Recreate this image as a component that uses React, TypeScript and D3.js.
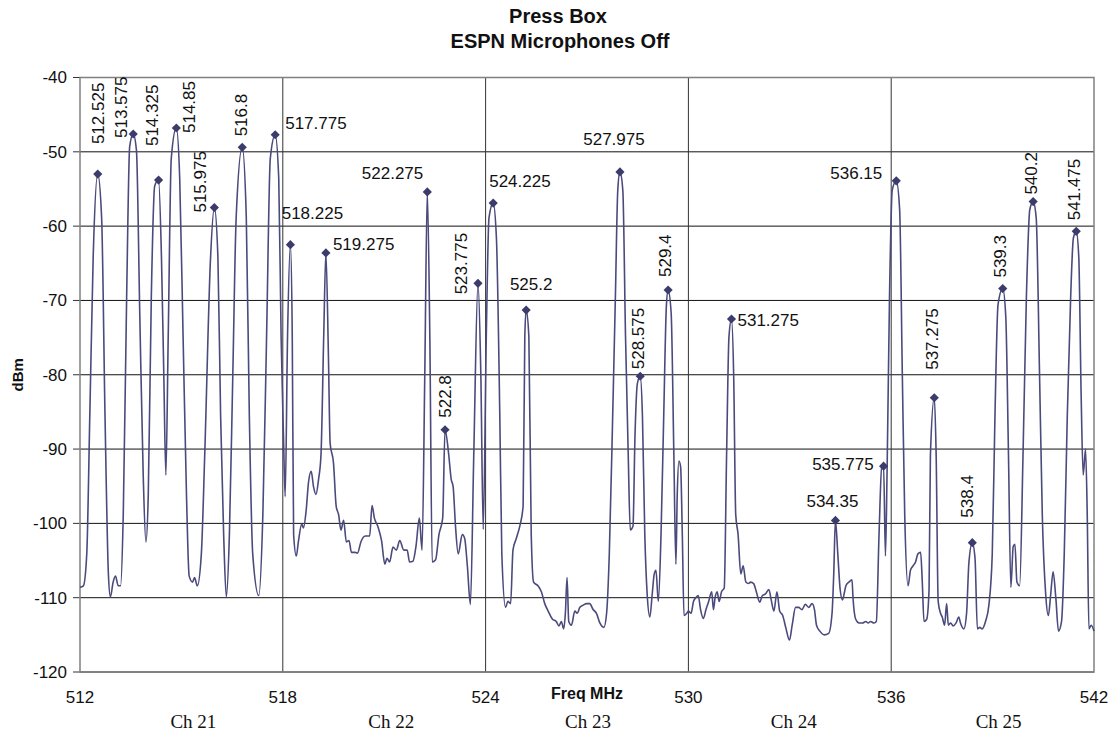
import React from 'react';
import * as d3 from 'd3';

// spectrum trace, [MHz, dBm]
const trace: [number, number][] = [
  [512.0, -108.6], [512.1, -108.4], [512.2, -104.1], [512.29, -85.5], [512.39, -64.2],
  [512.64, -58.9], [512.74, -85.5], [512.84, -106.8], [512.9, -109.9], [512.98, -107.9],
  [513.05, -107.1], [513.13, -108.4], [513.2, -108.4], [513.28, -98.8], [513.38, -69.5], [513.47, -49.3],
  [513.67, -49.8], [513.77, -72.2], [513.87, -93.5], [513.95, -102.5], [514.02, -96.1], [514.11, -69.5], [514.21, -54.6],
  [514.41, -64.2], [514.48, -80.2], [514.54, -93.5], [514.61, -74.9], [514.7, -50.9],
  [514.95, -53.6], [515.05, -74.9], [515.15, -96.1], [515.23, -107.1], [515.33, -107.9], [515.39, -107.3],
  [515.47, -108.4], [515.59, -104.1], [515.69, -90.8], [515.86, -64.5],
  [516.08, -64.2], [516.16, -85.5], [516.25, -101.5], [516.33, -109.9], [516.42, -101.5], [516.52, -80.2], [516.62, -58.9],
  [516.92, -58.9], [517.01, -85.5], [517.11, -104.1], [517.29, -109.7], [517.41, -98.8], [517.52, -74.9], [517.63, -50.9],
  [517.88, -53.6], [517.95, -74.9], [518.02, -88.2], [518.07, -96.4], [518.14, -74.9],
  [518.28, -74.9], [518.32, -101.5], [518.4, -104.4], [518.46, -102.5], [518.56, -100.1], [518.61, -100.6],
  [518.69, -98.3], [518.76, -94.5], [518.84, -93.0], [518.91, -95.1], [518.98, -96.1], [519.06, -94.0],
  [519.13, -90.8], [519.21, -74.9],
  [519.35, -77.5], [519.4, -89.2], [519.5, -91.9], [519.58, -97.7], [519.65, -98.8], [519.72, -100.9],
  [519.8, -99.6], [519.88, -102.5], [519.96, -102.3], [520.03, -103.9], [520.14, -103.9], [520.21, -104.0],
  [520.31, -102.5], [520.44, -101.7], [520.57, -101.7], [520.64, -97.6], [520.71, -99.3], [520.81, -100.4],
  [520.92, -102.3], [521.02, -105.5], [521.08, -104.7], [521.16, -105.2], [521.26, -103.2], [521.36, -103.6],
  [521.46, -102.3], [521.58, -103.6], [521.68, -103.6], [521.75, -105.2], [521.85, -105.1], [521.94, -103.1],
  [522.04, -99.3], [522.12, -103.6], [522.2, -80.2],
  [522.35, -74.9], [522.42, -105.2], [522.52, -104.9], [522.62, -101.5], [522.73, -99.3],
  [522.91, -90.8], [522.98, -94.0], [523.04, -95.1], [523.11, -100.4], [523.19, -104.1], [523.31, -101.5],
  [523.38, -102.0], [523.46, -105.7], [523.55, -110.9], [523.65, -90.8],
  [523.86, -80.2], [523.93, -100.8], [524.02, -74.9], [524.1, -58.9],
  [524.32, -61.6], [524.42, -85.5], [524.48, -104.1], [524.59, -111.3], [524.66, -110.5], [524.74, -110.8],
  [524.81, -103.6], [524.91, -102.0], [525.01, -100.4], [525.11, -97.7], [525.16, -74.9],
  [525.28, -74.9], [525.35, -101.5], [525.42, -107.9], [525.55, -108.4], [525.65, -109.2], [525.75, -110.8],
  [525.85, -111.8], [525.98, -112.9], [526.09, -113.2], [526.17, -113.8], [526.24, -113.2], [526.31, -114.2],
  [526.36, -112.1], [526.41, -107.3], [526.46, -113.2], [526.54, -113.7], [526.64, -111.8], [526.71, -112.1],
  [526.79, -111.3], [526.89, -111.0], [526.99, -110.8], [527.08, -110.8], [527.18, -111.6], [527.28, -112.1],
  [527.38, -113.4], [527.5, -114.0], [527.58, -112.1], [527.66, -104.1], [527.76, -85.5], [527.84, -69.5], [527.91, -55.2],
  [528.06, -55.2], [528.14, -74.9], [528.22, -90.8], [528.28, -100.9], [528.36, -100.4], [528.42, -88.2], [528.49, -81.2],
  [528.64, -85.5], [528.71, -101.5], [528.78, -109.5], [528.86, -112.6], [528.93, -109.5], [528.99, -106.8],
  [529.04, -106.3], [529.11, -110.5], [529.19, -101.5], [529.27, -85.5], [529.35, -70.6],
  [529.49, -71.7], [529.57, -90.8], [529.63, -105.5], [529.67, -96.1], [529.72, -91.6], [529.77, -92.4],
  [529.82, -101.5], [529.87, -112.4], [529.95, -112.1], [530.0, -111.8], [530.08, -112.1], [530.15, -110.5],
  [530.22, -110.0], [530.29, -109.7], [530.36, -111.6], [530.44, -112.8], [530.52, -111.6], [530.6, -110.5],
  [530.69, -109.2], [530.74, -111.6], [530.79, -110.0], [530.85, -109.2], [530.91, -110.5], [530.98, -109.2],
  [531.06, -108.7], [531.13, -90.8], [531.2, -74.9],
  [531.34, -80.2], [531.4, -98.8], [531.47, -101.5], [531.55, -106.8], [531.62, -105.7], [531.7, -107.9],
  [531.78, -108.1], [531.84, -107.9], [531.93, -108.1], [532.01, -109.2], [532.11, -110.6], [532.19, -109.7],
  [532.28, -109.5], [532.38, -108.9], [532.45, -110.3], [532.53, -111.8], [532.62, -109.2], [532.7, -111.8],
  [532.79, -112.4], [532.89, -114.2], [532.99, -115.7], [533.07, -113.7], [533.17, -111.3], [533.26, -111.3],
  [533.36, -111.6], [533.46, -110.9], [533.56, -111.3], [533.66, -110.8], [533.73, -111.6], [533.79, -113.7],
  [533.89, -114.5], [534.02, -115.0], [534.15, -114.8], [534.25, -112.1], [534.3, -106.8],
  [534.42, -104.1], [534.49, -108.9], [534.56, -110.3], [534.62, -109.2], [534.66, -108.4], [534.75, -107.9],
  [534.84, -107.6], [534.87, -110.0], [534.95, -112.9], [535.05, -113.4], [535.15, -113.4], [535.25, -113.2],
  [535.32, -113.4], [535.39, -113.2], [535.49, -113.4], [535.56, -113.2], [535.64, -101.5], [535.72, -92.4],
  [535.83, -104.4], [535.88, -92.4], [535.95, -69.5], [536.03, -55.2],
  [536.25, -57.8], [536.33, -80.2], [536.4, -98.8], [536.5, -108.4], [536.57, -106.3], [536.65, -105.7],
  [536.72, -105.2], [536.79, -104.1], [536.87, -103.9], [536.92, -107.9], [536.97, -113.2], [537.05, -112.9],
  [537.12, -108.9], [537.16, -90.8],
  [537.33, -90.8], [537.39, -110.5], [537.46, -112.1], [537.51, -112.6], [537.58, -113.7], [537.64, -110.8],
  [537.69, -113.7], [537.76, -113.4], [537.83, -113.8], [537.92, -113.4], [538.0, -112.6], [538.05, -113.4],
  [538.15, -114.2], [538.23, -112.1], [538.3, -105.2],
  [538.48, -104.7], [538.55, -114.2], [538.62, -114.0], [538.69, -114.2], [538.79, -113.2], [538.89, -111.0],
  [538.99, -104.1], [539.07, -85.5], [539.16, -70.6],
  [539.39, -72.2], [539.47, -90.8], [539.54, -108.6], [539.61, -103.1], [539.66, -102.8], [539.72, -107.9],
  [539.8, -108.4], [539.9, -90.8], [540.0, -69.5], [540.1, -57.8],
  [540.29, -58.9], [540.39, -80.2], [540.47, -98.8], [540.57, -109.5], [540.65, -112.4], [540.72, -109.5],
  [540.79, -106.5], [540.87, -110.0], [540.95, -114.5], [541.04, -113.2], [541.12, -104.1], [541.21, -85.5],
  [541.31, -69.5], [541.39, -61.6],
  [541.55, -64.2], [541.62, -82.8], [541.68, -93.5], [541.75, -90.0], [541.8, -98.8], [541.85, -114.2],
  [541.92, -113.7], [542.0, -114.5],
];

// marked carriers
const peakFreqs = [
  512.525, 513.575, 514.325, 514.85, 515.975, 516.8, 517.775, 518.225, 519.275, 522.275, 522.8, 523.775,
  524.225, 525.2, 527.975, 528.575, 529.4, 531.275, 534.35, 535.775, 536.15, 537.275, 538.4, 539.3,
  540.2, 541.475,
];
const peakLevels = [
  -53.0, -47.6, -53.8, -46.8, -57.5, -49.4, -47.7, -62.5, -63.6, -55.4, -87.4, -67.7,
  -56.9, -71.3, -52.7, -80.2, -68.6, -72.5, -99.6, -92.3, -53.9, -83.1, -102.6, -68.4,
  -56.7, -60.7,
];

const xTicks = [512, 518, 524, 530, 536, 542];
const yTicks = [-40, -50, -60, -70, -80, -90, -100, -110, -120];
const channelNames = ['Ch 21', 'Ch 22', 'Ch 23', 'Ch 24', 'Ch 25'];

// label placement relative to each marker (px): v = rotated text, anchor for flat text
const labelPlace: { v: boolean; dx: number; dy: number; anchor?: string }[] = [
  { v: true, dx: 0, dy: -30 },
  { v: true, dx: -12, dy: 4 },
  { v: true, dx: -7, dy: -34 },
  { v: true, dx: 13, dy: 5 },
  { v: true, dx: -14, dy: 5 },
  { v: true, dx: -1, dy: -11 },
  { v: false, dx: 10, dy: -6, anchor: 'start' },
  { v: false, dx: 22, dy: -26, anchor: 'middle' },
  { v: false, dx: 7, dy: -3, anchor: 'start' },
  { v: false, dx: -4, dy: -13, anchor: 'end' },
  { v: true, dx: 0, dy: -12 },
  { v: true, dx: -17, dy: 11 },
  { v: false, dx: -4, dy: -16, anchor: 'start' },
  { v: false, dx: 5, dy: -20, anchor: 'middle' },
  { v: false, dx: -6, dy: -27, anchor: 'middle' },
  { v: true, dx: -2, dy: -7 },
  { v: true, dx: -3, dy: -13 },
  { v: false, dx: 6, dy: 7, anchor: 'start' },
  { v: false, dx: -3, dy: -13, anchor: 'middle' },
  { v: false, dx: -10, dy: 4, anchor: 'end' },
  { v: false, dx: -14, dy: -2, anchor: 'end' },
  { v: true, dx: -2, dy: -28 },
  { v: true, dx: -5, dy: -25 },
  { v: true, dx: -3, dy: -11 },
  { v: true, dx: -2, dy: -7 },
  { v: true, dx: -2, dy: -11 },
];
// channel captions sit a little right of each channel centre
const chShift = [12, 7, 1, 4, 6];

const W = 1117;
const H = 738;
const left = 80;
const right = 1094;
const top = 77.5;
const bottom = 672;
const font = 'Arial, "Liberation Sans", sans-serif';
const lineColor = '#4a4a7c';

export default function App() {
  const x = d3.scaleLinear().domain([512, 542]).range([left, right]);
  const y = d3.scaleLinear().domain([-120, -40]).range([bottom, top]);

  const points: [number, number][] = [
    ...trace,
    ...peakFreqs.map((f, i) => [f, peakLevels[i]] as [number, number]),
  ].sort((a, b) => a[0] - b[0]);

  const path = d3
    .line<[number, number]>()
    .x(d => x(d[0]))
    .y(d => y(d[1]))
    .curve(d3.curveMonotoneX)(points);

  const diamond = d3.symbol(d3.symbolSquare, 42)();

  return (
    <svg width={W} height={H} style={{ position: 'absolute', left: 0, top: 0, background: '#fff' }}>
      <g fontFamily={font} fontWeight="bold" fontSize={20} textAnchor="middle" fill="#111">
        <text x={558} y={23}>Press Box</text>
        <text x={560} y={48}>ESPN Microphones Off</text>
      </g>

      {yTicks.map(t => (
        <g key={t}>
          <line x1={left} x2={right} y1={y(t)} y2={y(t)} stroke="#111" strokeWidth={1} />
          <line x1={left - 7} x2={left} y1={y(t)} y2={y(t)} stroke="#333" strokeWidth={1} />
          <text x={67} y={y(t)} dy="0.35em" textAnchor="end" fontFamily={font} fontSize={17} fill="#111">
            {t}
          </text>
        </g>
      ))}
      {xTicks.slice(1, -1).map(t => (
        <line key={t} x1={x(t)} x2={x(t)} y1={top} y2={bottom} stroke="#333" strokeWidth={1} />
      ))}
      <rect x={left} y={top} width={right - left} height={bottom - top} fill="none" stroke="#808080" strokeWidth={1.5} />

      {xTicks.map(t => (
        <text key={t} x={x(t)} y={697} dy="0.35em" textAnchor="middle" fontFamily={font} fontSize={17} fill="#111">
          {t}
        </text>
      ))}
      <text x={587} y={693} dy="0.35em" textAnchor="middle" fontFamily={font} fontWeight="bold" fontSize={16} fill="#111">
        Freq MHz
      </text>
      <text
        transform={`translate(18, ${(top + bottom) / 2}) rotate(-90)`}
        dy="0.35em"
        textAnchor="middle"
        fontFamily={font}
        fontWeight="bold"
        fontSize={15}
        fill="#111"
      >
        dBm
      </text>
      {channelNames.map((c, i) => (
        <text
          key={c}
          x={x(xTicks[i] + 3) + chShift[i]}
          y={728}
          textAnchor="middle"
          fontFamily='"Liberation Serif", "Times New Roman", serif'
          fontSize={19}
          fill="#111"
        >
          {c}
        </text>
      ))}

      <path d={path ?? ''} fill="none" stroke={lineColor} strokeWidth={1.6} strokeLinejoin="round" />

      {peakFreqs.map((f, i) => {
        const px = x(f);
        const py = y(peakLevels[i]);
        const lp = labelPlace[i];
        return (
          <g key={f}>
            <path d={diamond ?? ''} transform={`translate(${px},${py}) rotate(45)`} fill="#3c3c6c" />
            {lp.v ? (
              <text
                transform={`translate(${px + lp.dx},${py + lp.dy}) rotate(-90)`}
                dy="0.35em"
                textAnchor="start"
                fontFamily={font}
                fontSize={17}
                fill="#111"
              >
                {f}
              </text>
            ) : (
              <text
                x={px + lp.dx}
                y={py + lp.dy}
                textAnchor={lp.anchor}
                fontFamily={font}
                fontSize={17}
                fill="#111"
              >
                {f}
              </text>
            )}
          </g>
        );
      })}
    </svg>
  );
}
